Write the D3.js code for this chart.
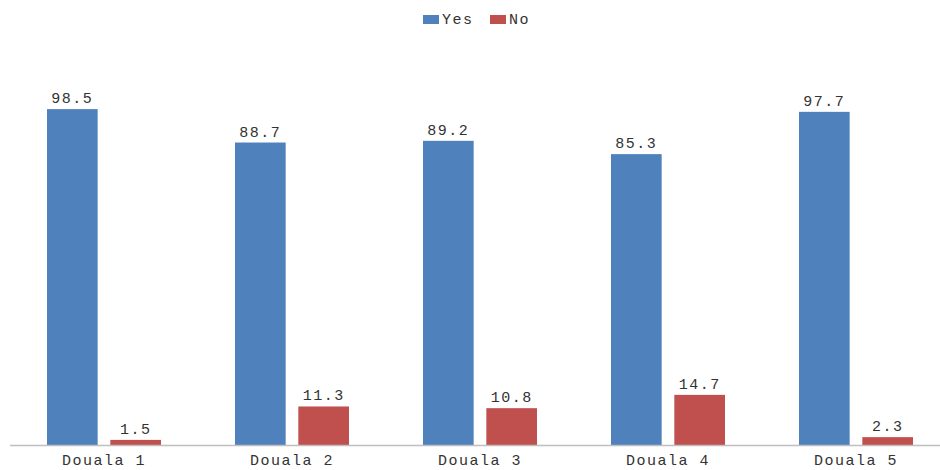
<!DOCTYPE html>
<html>
<head>
<meta charset="utf-8">
<script src="https://cdn.jsdelivr.net/npm/d3@7"></script>
<style>
  body { margin: 0; background: #fff; }
  svg text { font-family: "Liberation Mono", "DejaVu Sans Mono", monospace; fill: #333; }
</style>
</head>
<body>
<svg id="chart"></svg>
<script>
const width = 940;
const height = 470;

// data
const districts = ["Douala 1", "Douala 2", "Douala 3", "Douala 4", "Douala 5"];
const yesValues = [98.5, 88.7, 89.2, 85.3, 97.7];
const noValues = [1.5, 11.3, 10.8, 14.7, 2.3];
const seriesNames = ["Yes", "No"];
const seriesColors = ["#4f81bd", "#c0504d"];

const rows = districts.map((d, i) => ({ name: d, Yes: yesValues[i], No: noValues[i] }));

const svg = d3.select("#chart")
    .attr("width", width)
    .attr("height", height);

const baseY = 445;

const x = d3.scaleBand()
    .domain(districts)
    .range([10, 950])
    .paddingInner(0)
    .paddingOuter(0);

const xInner = d3.scaleBand()
    .domain(seriesNames)
    .range([37, x.bandwidth() - 37])
    .paddingInner(0.2);

// 98.5 -> ~336px tall
const y = d3.scaleLinear()
    .domain([0, 120])
    .range([baseY, baseY - 120 * 3.41]);

const color = d3.scaleOrdinal().domain(seriesNames).range(seriesColors);

const groups = svg.append("g")
    .selectAll("g")
    .data(rows)
    .join("g")
    .attr("transform", d => `translate(${x(d.name)},0)`);

groups.selectAll("rect")
    .data(d => seriesNames.map(k => ({ key: k, value: d[k] })))
    .join("rect")
    .attr("x", d => xInner(d.key))
    .attr("y", d => y(d.value))
    .attr("width", xInner.bandwidth())
    .attr("height", d => y(0) - y(d.value))
    .attr("fill", d => color(d.key));

groups.selectAll("text.val")
    .data(d => seriesNames.map(k => ({ key: k, value: d[k] })))
    .join("text")
    .attr("class", "val")
    .attr("x", d => xInner(d.key) + xInner.bandwidth() / 2)
    .attr("y", d => y(d.value) - 6)
    .attr("text-anchor", "middle")
    .style("font-size", "15px")
    .style("letter-spacing", "1.5px")
    .text(d => d.value.toFixed(1));

// axis line
svg.append("line")
    .attr("x1", 10)
    .attr("x2", width)
    .attr("y1", baseY + 0.5)
    .attr("y2", baseY + 0.5)
    .attr("stroke", "#bfbfbf")
    .attr("stroke-width", 1.5);

const xAxis = svg.append("g")
    .attr("transform", `translate(0,${baseY})`)
    .call(d3.axisBottom(x).tickSize(0));
xAxis.select(".domain").remove();
xAxis.selectAll("text")
    .attr("y", 20)
    .attr("dy", 0)
    .style("font-size", "15px")
    .style("letter-spacing", "1.5px")
    .style("font-family", '"Liberation Mono", monospace')
    .style("fill", "#333");

// legend
const legendPos = [423, 490];
const legend = svg.append("g")
    .selectAll("g")
    .data(seriesNames)
    .join("g")
    .attr("transform", (d, i) => `translate(${legendPos[i]},15)`);

legend.append("rect")
    .attr("width", 16)
    .attr("height", 9)
    .attr("fill", d => color(d));

legend.append("text")
    .attr("x", 19)
    .attr("y", 9)
    .style("font-size", "15px")
    .style("letter-spacing", "1.5px")
    .text(d => d);
</script>
</body>
</html>
